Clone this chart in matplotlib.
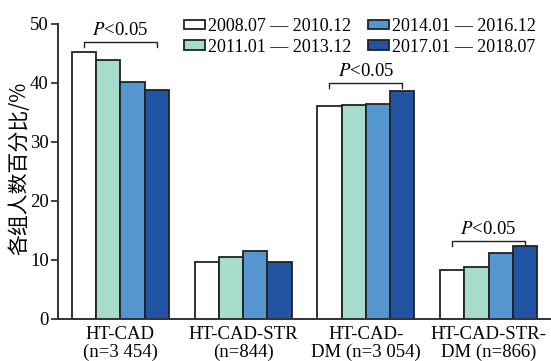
import matplotlib.pyplot as plt
import numpy as np

groups = ["HT-CAD\n(n=3 454)", "HT-CAD-STR\n(n=844)",
          "HT-CAD-\nDM (n=3 054)", "HT-CAD-STR-\nDM (n=866)"]
periods = ["2008.07 — 2010.12", "2011.01 — 2013.12",
           "2014.01 — 2016.12", "2017.01 — 2018.07"]
values = [
    [45.3, 9.7, 36.1, 8.3],
    [43.9, 10.4, 36.3, 8.7],
    [40.2, 11.5, 36.4, 11.2],
    [38.7, 9.7, 38.6, 12.4],
]
sig_groups = [0, 2, 3]
sig_heights = [46.9, 40.0, 13.2]

colors = ["#ffffff", "#a6dccb", "#5596cf", "#2254a4"]
SERIF = ["Liberation Serif", "DejaVu Serif"]

plt.rcParams["font.family"] = SERIF
plt.rcParams["mathtext.fontset"] = "stix"
fig = plt.figure(figsize=(5.51, 3.61), dpi=100)
ax = fig.add_axes([0.106, 0.117, 0.892, 0.817])

x = np.arange(len(groups))
width = 0.198
for i, (vals, col) in enumerate(zip(values, colors)):
    ax.bar(x + (i - 1.5) * width, vals, width, color=col,
           edgecolor="#222222", linewidth=1.3, label=periods[i])

for g, h in zip(sig_groups, sig_heights):
    x0 = g - 1.5 * width
    x1 = g + 1.5 * width
    ax.plot([x0, x0, x1, x1], [h - 0.9, h, h, h - 0.9], color="#222222", lw=1.0)
    ax.text(g, h + 0.5, r"$\mathit{P}$<0.05", ha="center", va="bottom", fontsize=13.5)

ax.set_xlim(-0.505, 3.5)
ax.set_ylim(0, 50)
ax.set_yticks([0, 10, 20, 30, 40, 50])
ax.set_xticks(x)
ax.set_xticklabels(groups, fontsize=13.5, linespacing=1.05)
ax.tick_params(axis="x", length=0, pad=5)
ax.tick_params(axis="y", labelsize=13.5, length=5, width=1.3, color="#333333", pad=2)
for side in ("top", "right"):
    ax.spines[side].set_visible(False)
for side in ("left", "bottom"):
    ax.spines[side].set_linewidth(1.4)
    ax.spines[side].set_color("#333333")

ax.set_ylabel("各组人数百分比/%", fontsize=15,
              family=["Noto Sans CJK SC", "DejaVu Sans"])
ax.yaxis.set_label_coords(-0.058, 0.51)

ax.legend(loc="upper right", bbox_to_anchor=(1.005, 1.075), ncol=2, frameon=False,
          fontsize=13, handlelength=1.15, handleheight=0.45, handletextpad=0.2,
          columnspacing=0.9, labelspacing=0.2)

fig.savefig("out.png", dpi=100)
